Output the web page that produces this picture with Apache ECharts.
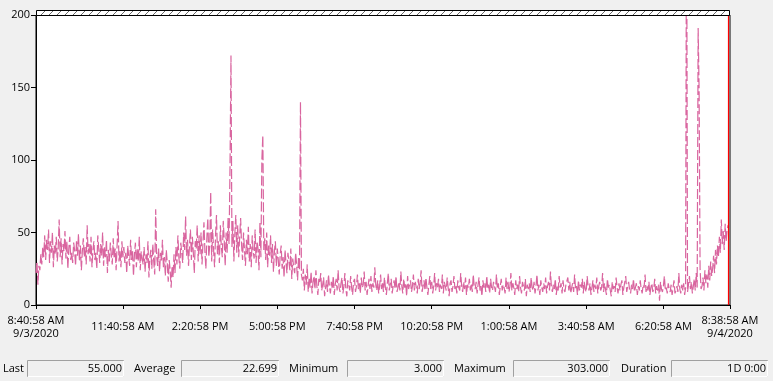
<!DOCTYPE html>
<html><head><meta charset="utf-8">
<script src="https://cdn.jsdelivr.net/npm/echarts@6/dist/echarts.min.js"></script>
<style>html,body{margin:0;padding:0;background:#f0f0f0}#c{width:773px;height:381px}</style>
</head><body><div id="c"></div>
<script>
// ---- data ----
const SAMPLE_MINUTES = 2;          // minutes between samples
const X_MAX = 1438;                // 8:40:58 AM -> 8:38:58 AM next day
const TICK_VALUES = [0, 180, 340, 500, 660, 820, 980, 1140, 1300, 1438];
const TICK_LABELS = ['8:40:58 AM\n9/3/2020', '11:40:58 AM', '2:20:58 PM', '5:00:58 PM', '7:40:58 PM',
  '10:20:58 PM', '1:00:58 AM', '3:40:58 AM', '6:20:58 AM', '8:38:58 AM\n9/4/2020'];
const Y_TICKS = [0, 50, 100, 150, 200];
const CURRENT_MINUTE = 1434;
const VALUES = [
22,30,14,27,24,35,28,40,33,48,31,45,38,52,29,44,36,50,26,41,
35,47,30,39,59,33,46,28,42,37,51,32,44,25,39,47,31,36,29,43,
38,27,45,34,49,30,41,24,37,46,33,40,28,55,35,42,30,47,26,38,
44,31,36,25,48,39,29,42,34,50,27,40,33,45,22,38,30,43,35,28,
46,32,39,24,41,58,30,37,26,44,33,40,
29,36,22,41,34,27,45,31,38,20,35,43,26,39,30,47,24,37,32,28,
40,23,35,29,44,19,33,38,25,42,30,21,66,34,27,39,23,36,30,45,
26,33,20,38,29,16,31,24,12,27,19,35,22,40,28,48,33,25,43,36,
29,50,38,61,34,45,27,41,52,31,47,36,22,44,39,55,30,48,
35,50,28,43,57,37,25,46,60,33,41,78,30,52,38,26,48,62,35,44,
29,55,40,33,58,45,27,50,36,60,42,95,
172,40,58,30,49,62,36,55,33,47,60,41,31,50,38,27,45,35,54,30,
42,26,48,37,32,52,29,44,39,24,57,33,100,117,38,46,31,50,26,41,
34,48,29,42,23,37,44,27,39,31,21,35,41,25,33,19,38,29,22,36,
30,24,39,18,32,26,22,36,28,17,33,24,140,21,
17,25,10,21,14,28,9,19,12,23,8,16,20,11,24,13,7,18,15,22,
10,14,19,6,12,17,9,21,13,8,16,11,20,7,14,18,10,24,12,9,
15,19,8,13,22,11,6,17,14,10,20,12,7,16,18,9,13,21,11,15,
8,19,12,14,23,10,16,7,13,18,11,20,9,15,12,26,14,10,17,8,
13,21,11,16,9,19,12,7,15,22,10,14,18,8,13,17,11,20,9,12,
16,10,23,13,8,18,12,15,6,20,11,14,17,9,13,21,10,16,12,8,
18,11,15,24,9,13,17,10,19,12,7,14,20,11,16,8,13,22,10,15,
12,18,9,14,11,21,8,16,13,10,19,12,6,15,17,9,13,20,11,14,
8,17,12,10,22,13,9,16,11,19,7,14,12,18,10,15,9,21,13,11,
16,8,14,19,10,13,6,17,12,15,9,20,11,14,8,18,12,10,16,13,
9,21,11,15,7,13,18,10,14,12,8,19,11,16,9,13,22,10,15,12,
7,17,11,14,9,20,12,8,16,13,10,18,6,14,11,15,9,19,12,10,
16,8,13,21,10,14,7,17,12,9,15,11,19,8,13,16,10,23,12,9,
14,11,18,7,13,10,20,12,15,8,17,11,9,14,13,19,10,16,8,12,
15,9,21,11,13,7,17,10,14,12,18,8,16,11,9,20,13,10,15,7,
12,17,9,14,11,19,8,13,16,10,12,22,9,15,11,7,18,12,14,10,
6,16,11,13,9,19,12,8,15,10,14,17,7,12,11,20,9,13,16,10,
8,14,11,18,9,12,15,7,13,10,17,11,8,14,12,21,9,13,10,16,
7,12,15,9,11,18,8,13,10,14,3,16,11,9,13,20,10,12,8,15,
11,9,14,7,12,17,8,10,13,9,22,11,8,14,
10,15,7,12,303,9,14,20,11,16,8,13,18,10,22,12,191,148,25,11,
13,19,10,24,15,21,12,27,17,30,20,25,34,22,38,28,41,33,47,36,59,42,51,38,56,44,52,55
];
const STAT_NAMES = ['Last', 'Average', 'Minimum', 'Maximum', 'Duration'];
const STAT_VALUES = ['55.000', '22.699', '3.000', '303.000', '1D 0:00'];

// ---- layout ----
const FONT = 'Open Sans';
const STAT_LAYOUT = [ // label x, box x0, box x1
  [3, 27, 123], [134, 181, 278], [289, 347, 443], [454, 513, 609], [621, 671, 767]
];

const seriesData = VALUES.map((v, i) => [i * SAMPLE_MINUTES, v]);

// hatch pattern
const pc = document.createElement('canvas');
pc.width = 8; pc.height = 8;
const g = pc.getContext('2d');
g.fillStyle = '#ffffff'; g.fillRect(0, 0, 8, 8);
g.strokeStyle = '#6a6a6a'; g.lineWidth = 1;
g.beginPath(); g.moveTo(-1, 9); g.lineTo(9, -1); g.stroke();

const graphics = [
  { type: 'rect', shape: { x: 36.5, y: 10.5, width: 693, height: 5 },
    style: { fill: { image: pc, repeat: 'repeat' }, stroke: '#000', lineWidth: 1 }, z: 10 }
];
STAT_NAMES.forEach((name, k) => {
  const [lx, bx0, bx1] = STAT_LAYOUT[k];
  graphics.push({ type: 'text', x: lx, y: 369, style: { text: name, font: '11px "' + FONT + '"', fill: '#000', textVerticalAlign: 'middle' } });
  graphics.push({ type: 'rect', shape: { x: bx0 + 0.5, y: 360.5, width: bx1 - bx0, height: 16 },
    style: { fill: '#f0f0f0', stroke: '#a0a0a0', lineWidth: 1 } });
  graphics.push({ type: 'polyline', shape: { points: [[bx0 + 1, 376.5], [bx1 + 0.5, 376.5], [bx1 + 0.5, 361]] },
    style: { stroke: '#ffffff', lineWidth: 1, fill: null } });
  graphics.push({ type: 'text', x: bx1 - 1, y: 369, style: { text: STAT_VALUES[k], font: '11px "' + FONT + '"', fill: '#000', textAlign: 'right', textVerticalAlign: 'middle' } });
});

const chart = echarts.init(document.getElementById('c'), null, { renderer: 'canvas' });
chart.setOption({
  animation: false,
  backgroundColor: '#f0f0f0',
  grid: { left: 36, right: 43, top: 15, bottom: 76, show: true, backgroundColor: '#ffffff', borderColor: '#000', borderWidth: 1 },
  xAxis: {
    type: 'value', min: 0, max: X_MAX,
    splitLine: { show: false },
    axisLine: { show: true, lineStyle: { color: '#000', width: 1 } },
    axisTick: { show: true, length: 4, lineStyle: { color: '#000' }, customValues: TICK_VALUES },
    axisLabel: {
      customValues: TICK_VALUES, hideOverlap: false, showMinLabel: true, showMaxLabel: true,
      formatter: (v) => TICK_LABELS[TICK_VALUES.indexOf(v)],
      color: '#000', fontFamily: FONT, fontSize: 11, lineHeight: 13,
      verticalAlign: 'middle', margin: 22, align: 'center'
    }
  },
  yAxis: {
    type: 'value', min: Y_TICKS[0], max: Y_TICKS[Y_TICKS.length - 1], interval: 50,
    splitLine: { show: false },
    axisLine: { show: true, lineStyle: { color: '#000', width: 1 } },
    axisTick: { show: true, length: 5, lineStyle: { color: '#000' } },
    axisLabel: { color: '#000', fontFamily: FONT, fontSize: 11, margin: 6 }
  },
  series: [{
    type: 'line', data: seriesData, symbol: 'none', clip: true,
    lineStyle: { color: '#d9659f', width: 1.2, type: [10, 3] },
    markLine: {
      silent: true, symbol: ['none', 'none'], label: { show: false },
      lineStyle: { color: '#ff0000', width: 1.2, type: 'solid' },
      data: [{ xAxis: CURRENT_MINUTE }]
    }
  }],
  graphic: graphics
});
</script>
</body></html>
